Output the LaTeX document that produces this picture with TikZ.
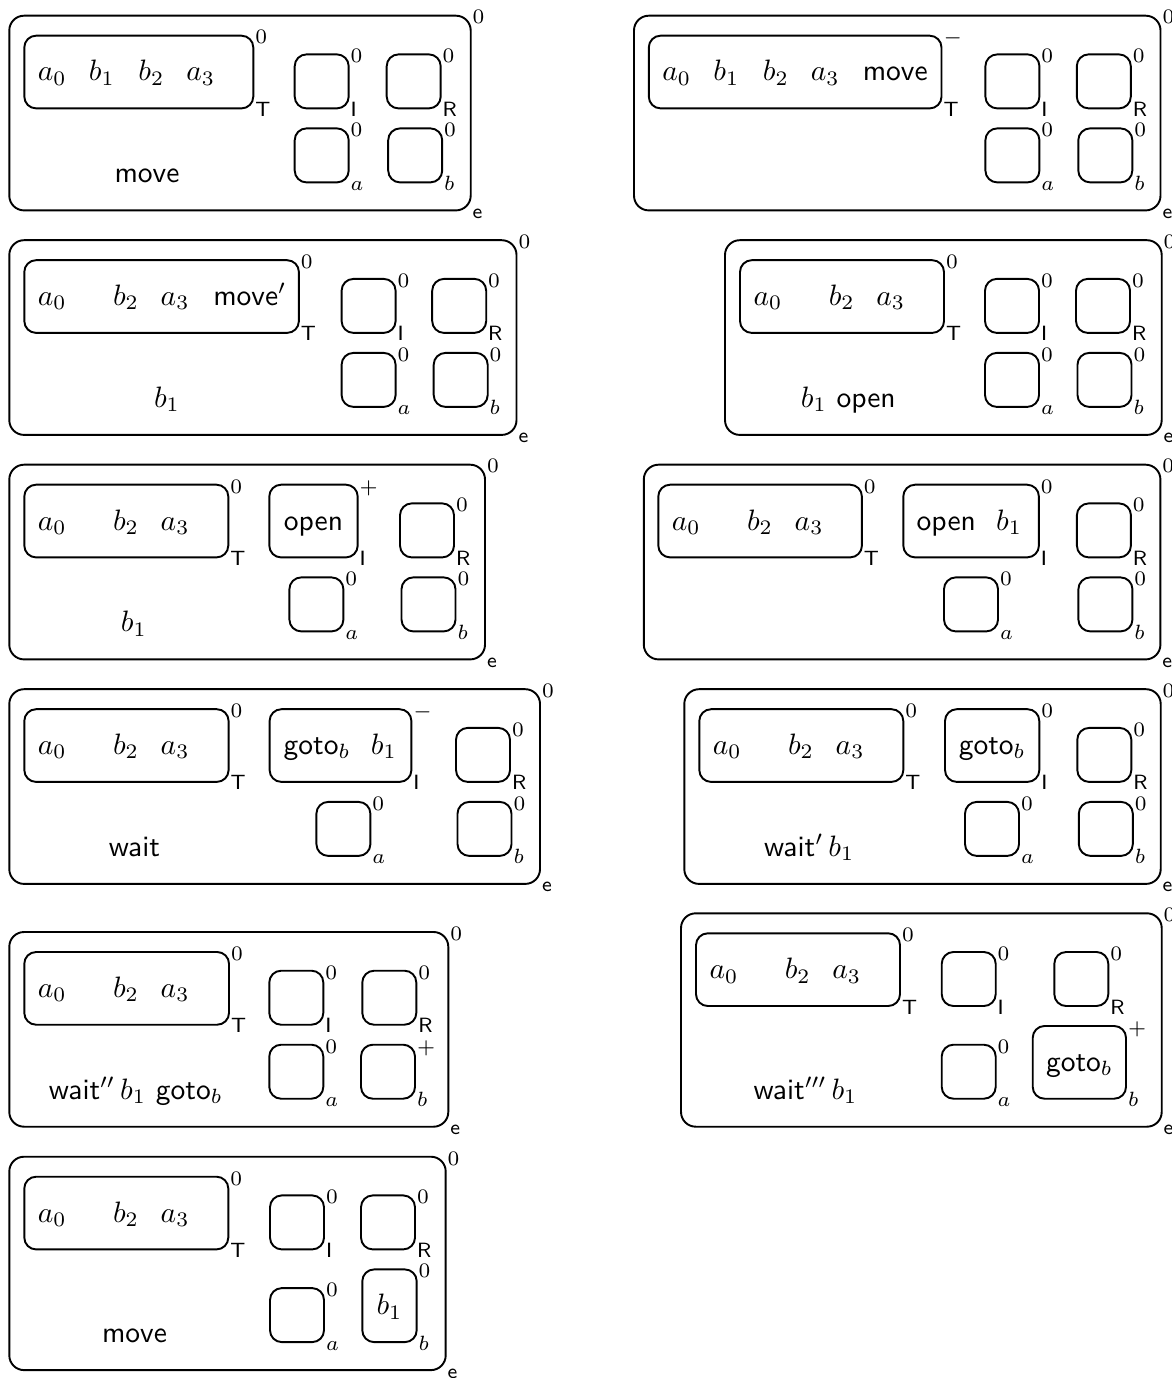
\documentclass[tikz,border=0pt]{standalone}
\usetikzlibrary{calc}
\def\un{0.339pt}
\tikzset{
  every node/.style={inner sep=0pt, outer sep=0pt},
  rbox/.style={draw, line width=0.65pt, rounded corners=4pt, anchor=north west},
  obox/.style={draw, line width=0.65pt, rounded corners=5pt, anchor=north west},
  lab/.style={font=\scriptsize, anchor=base west},
  txt/.style={anchor=base},
  txtw/.style={anchor=base west},
}
% name, x1, y1, x2, y2, sup, sub, style
\newcommand\bxx[8]{%
  \node[#8, minimum width={((#4)-(#2))*\un}, minimum height={((#5)-(#3))*\un}] (#1) at ({#2},{#3}) {};
  \node[lab] (#1-sup) at ($(#1.north east)+(2,8.3)$) {#6};
  \node[lab] (#1-sub) at ($(#1.south east)+(2,8)$) {#7};
}
\begin{document}
\begin{tikzpicture}[x=0.339pt, y=-0.339pt]
\useasboundingbox (0,0) rectangle (1171,1378);

% ---------------- L1
\def\Y{15.7}
\bxx{L1}{9.3}{\Y}{470.7}{\Y+194.7}{$0$}{\textsf{e}}{obox}
\bxx{L1T}{24.3}{\Y+20}{253.3}{\Y+92.7}{$0$}{\textsf{T}}{rbox}
\bxx{L1I}{294.7}{\Y+38.7}{348.7}{\Y+92.7}{$0$}{\textsf{I}}{rbox}
\bxx{L1R}{386.7}{\Y+38.7}{440.7}{\Y+92.7}{$0$}{\textsf{R}}{rbox}
\bxx{L1a}{294.7}{\Y+112.7}{348.7}{\Y+166.7}{$0$}{$a$}{rbox}
\bxx{L1b}{388.2}{\Y+112.7}{442.2}{\Y+166.7}{$0$}{$b$}{rbox}
\node[txt] (L1t1) at (52.3,\Y+65.3) {$a_0$};
\node[txt] (L1t2) at (101.8,\Y+65.3) {$b_1$};
\node[txt] (L1t3) at (151.3,\Y+65.3) {$b_2$};
\node[txt] (L1t4) at (200.8,\Y+65.3) {$a_3$};
\node[txt] (L1m) at (147,\Y+167.2) {\textsf{move}};

% ---------------- R1
\bxx{R1}{634}{\Y}{1160.5}{\Y+194.7}{$0$}{\textsf{e}}{obox}
\bxx{R1T}{648.8}{\Y+20}{941.5}{\Y+92.7}{$-$}{\textsf{T}}{rbox}
\bxx{R1I}{985.4}{\Y+38.7}{1039.4}{\Y+92.7}{$0$}{\textsf{I}}{rbox}
\bxx{R1R}{1076.8}{\Y+38.7}{1130.8}{\Y+92.7}{$0$}{\textsf{R}}{rbox}
\bxx{R1a}{985.4}{\Y+112.7}{1039.4}{\Y+166.7}{$0$}{$a$}{rbox}
\bxx{R1b}{1078.3}{\Y+112.7}{1132.3}{\Y+166.7}{$0$}{$b$}{rbox}
\node[txt] (R1t1) at (676.8,\Y+65.3) {$a_0$};
\node[txt] (R1t2) at (726.3,\Y+65.3) {$b_1$};
\node[txt] (R1t3) at (775.8,\Y+65.3) {$b_2$};
\node[txt] (R1t4) at (825.3,\Y+65.3) {$a_3$};
\node[txtw] (R1t5) at (862.8,\Y+65.3) {\textsf{move}};

% ---------------- L2
\def\Y{240.2}
\bxx{L2}{9.3}{\Y}{516.5}{\Y+194.7}{$0$}{\textsf{e}}{obox}
\bxx{L2T}{24.3}{\Y+20}{298.9}{\Y+92.7}{$0$}{\textsf{T}}{rbox}
\bxx{L2I}{341.6}{\Y+38.7}{395.6}{\Y+92.7}{$0$}{\textsf{I}}{rbox}
\bxx{L2R}{432.2}{\Y+38.7}{486.2}{\Y+92.7}{$0$}{\textsf{R}}{rbox}
\bxx{L2a}{341.6}{\Y+112.7}{395.6}{\Y+166.7}{$0$}{$a$}{rbox}
\bxx{L2b}{433.7}{\Y+112.7}{487.7}{\Y+166.7}{$0$}{$b$}{rbox}
\node[txt] (L2t1) at (52.3,\Y+65.3) {$a_0$};
\node[txt] (L2t3) at (126,\Y+65.3) {$b_2$};
\node[txt] (L2t4) at (175.1,\Y+65.3) {$a_3$};
\node[txtw] (L2t5) at (213.3,\Y+65.3) {\textsf{move}$'$};
\node[txt] (L2m) at (167,\Y+167.2) {$b_1$};

% ---------------- R2
\bxx{R2}{725}{\Y}{1161.7}{\Y+194.7}{$0$}{\textsf{e}}{obox}
\bxx{R2T}{740}{\Y+20}{944}{\Y+92.7}{$0$}{\textsf{T}}{rbox}
\bxx{R2I}{985}{\Y+38.7}{1039}{\Y+92.7}{$0$}{\textsf{I}}{rbox}
\bxx{R2R}{1076}{\Y+38.7}{1130}{\Y+92.7}{$0$}{\textsf{R}}{rbox}
\bxx{R2a}{985}{\Y+112.7}{1039}{\Y+166.7}{$0$}{$a$}{rbox}
\bxx{R2b}{1077.5}{\Y+112.7}{1131.5}{\Y+166.7}{$0$}{$b$}{rbox}
\node[txt] (R2t1) at (768,\Y+65.3) {$a_0$};
\node[txt] (R2t3) at (841.7,\Y+65.3) {$b_2$};
\node[txt] (R2t4) at (890.8,\Y+65.3) {$a_3$};
\node[txt] (R2m) at (848.3,\Y+167.2) {$b_1$ \textsf{open}};

% ---------------- L3
\def\Y{464.7}
\bxx{L3}{9.3}{\Y}{485}{\Y+194.7}{$0$}{\textsf{e}}{obox}
\bxx{L3T}{24.3}{\Y+20}{228.3}{\Y+92.7}{$0$}{\textsf{T}}{rbox}
\bxx{L3I}{269.3}{\Y+20}{357.7}{\Y+92.7}{$+$}{\textsf{I}}{rbox}
\bxx{L3R}{400}{\Y+38.7}{454}{\Y+92.7}{$0$}{\textsf{R}}{rbox}
\bxx{L3a}{289.4}{\Y+112.7}{343.4}{\Y+166.7}{$0$}{$a$}{rbox}
\bxx{L3b}{401.5}{\Y+112.7}{455.5}{\Y+166.7}{$0$}{$b$}{rbox}
\node[txt] (L3t1) at (52.3,\Y+65.3) {$a_0$};
\node[txt] (L3t3) at (126,\Y+65.3) {$b_2$};
\node[txt] (L3t4) at (175.1,\Y+65.3) {$a_3$};
\node[txt] (L3i1) at (313.5,\Y+65.3) {\textsf{open}};
\node[txt] (L3m) at (133.8,\Y+167.2) {$b_1$};

% ---------------- R3
\bxx{R3}{643.8}{\Y}{1160.4}{\Y+194.7}{$0$}{\textsf{e}}{obox}
\bxx{R3T}{658.3}{\Y+20}{861.9}{\Y+92.7}{$0$}{\textsf{T}}{rbox}
\bxx{R3I}{903.3}{\Y+20}{1038.9}{\Y+92.7}{$0$}{\textsf{I}}{rbox}
\bxx{R3R}{1076.9}{\Y+38.7}{1130.9}{\Y+92.7}{$0$}{\textsf{R}}{rbox}
\bxx{R3a}{944}{\Y+112.7}{998}{\Y+166.7}{$0$}{$a$}{rbox}
\bxx{R3b}{1078.4}{\Y+112.7}{1132.4}{\Y+166.7}{$0$}{$b$}{rbox}
\node[txt] (R3t1) at (686.3,\Y+65.3) {$a_0$};
\node[txt] (R3t3) at (760,\Y+65.3) {$b_2$};
\node[txt] (R3t4) at (809.1,\Y+65.3) {$a_3$};
\node[txt] (R3i1) at (946.3,\Y+65.3) {\textsf{open}};
\node[txt] (R3i2) at (1009.1,\Y+65.3) {$b_1$};

% ---------------- L4
\def\Y{689.2}
\bxx{L4}{9.3}{\Y}{540}{\Y+194.7}{$0$}{\textsf{e}}{obox}
\bxx{L4T}{24.3}{\Y+20}{228.6}{\Y+92.7}{$0$}{\textsf{T}}{rbox}
\bxx{L4I}{269.6}{\Y+20}{411.4}{\Y+92.7}{$-$}{\textsf{I}}{rbox}
\bxx{L4R}{456}{\Y+38.7}{510}{\Y+92.7}{$0$}{\textsf{R}}{rbox}
\bxx{L4a}{316.4}{\Y+112.7}{370.4}{\Y+166.7}{$0$}{$a$}{rbox}
\bxx{L4b}{457.5}{\Y+112.7}{511.5}{\Y+166.7}{$0$}{$b$}{rbox}
\node[txt] (L4t1) at (52.3,\Y+65.3) {$a_0$};
\node[txt] (L4t3) at (126,\Y+65.3) {$b_2$};
\node[txt] (L4t4) at (175.1,\Y+65.3) {$a_3$};
\node[txt] (L4i1) at (317,\Y+65.3) {\textsf{goto}$_b$};
\node[txt] (L4i2) at (383.9,\Y+65.3) {$b_1$};
\node[txt] (L4m) at (134.5,\Y+167.2) {\textsf{wait}};

% ---------------- R4
\bxx{R4}{684.3}{\Y}{1160.7}{\Y+194.7}{$0$}{\textsf{e}}{obox}
\bxx{R4T}{699.3}{\Y+20}{903.3}{\Y+92.7}{$0$}{\textsf{T}}{rbox}
\bxx{R4I}{945}{\Y+20}{1039.3}{\Y+92.7}{$0$}{\textsf{I}}{rbox}
\bxx{R4R}{1077.3}{\Y+38.7}{1131.3}{\Y+92.7}{$0$}{\textsf{R}}{rbox}
\bxx{R4a}{965}{\Y+112.7}{1019}{\Y+166.7}{$0$}{$a$}{rbox}
\bxx{R4b}{1078.8}{\Y+112.7}{1132.8}{\Y+166.7}{$0$}{$b$}{rbox}
\node[txt] (R4t1) at (727.3,\Y+65.3) {$a_0$};
\node[txt] (R4t3) at (801,\Y+65.3) {$b_2$};
\node[txt] (R4t4) at (850.1,\Y+65.3) {$a_3$};
\node[txt] (R4i1) at (992.2,\Y+65.3) {\textsf{goto}$_b$};
\node[txt] (R4m) at (809.2,\Y+167.2) {\textsf{wait}$'\,b_1$};

% ---------------- L5
\def\Y{932}
\bxx{L5}{9.3}{\Y}{448.3}{\Y+194.7}{$0$}{\textsf{e}}{obox}
\bxx{L5T}{24.3}{\Y+20}{229}{\Y+92.7}{$0$}{\textsf{T}}{rbox}
\bxx{L5I}{269.3}{\Y+38.7}{323.3}{\Y+92.7}{$0$}{\textsf{I}}{rbox}
\bxx{L5R}{362.3}{\Y+38.7}{416.3}{\Y+92.7}{$0$}{\textsf{R}}{rbox}
\bxx{L5a}{269.3}{\Y+112.7}{323.3}{\Y+166.7}{$0$}{$a$}{rbox}
\bxx{L5b}{361}{\Y+112.7}{415}{\Y+166.7}{$+$}{$b$}{rbox}
\node[txt] (L5t1) at (52.3,\Y+65.3) {$a_0$};
\node[txt] (L5t3) at (126,\Y+65.3) {$b_2$};
\node[txt] (L5t4) at (175.1,\Y+65.3) {$a_3$};
\node[txt] (L5m) at (135.8,\Y+167.2) {\textsf{wait}$''\,b_1$ \textsf{goto}$_b$};

% ---------------- R5 (tall)
\def\Y{913.3}
\bxx{R5}{681}{\Y}{1161.7}{\Y+213.4}{$0$}{\textsf{e}}{obox}
\bxx{R5T}{696}{\Y+20}{900}{\Y+92.7}{$0$}{\textsf{T}}{rbox}
\bxx{R5I}{941.7}{\Y+38.7}{995.7}{\Y+92.7}{$0$}{\textsf{I}}{rbox}
\bxx{R5R}{1054.3}{\Y+38.7}{1108.3}{\Y+92.7}{$0$}{\textsf{R}}{rbox}
\bxx{R5a}{941.7}{\Y+131.4}{995.7}{\Y+185.4}{$0$}{$a$}{rbox}
\bxx{R5b}{1032.7}{\Y+112.7}{1126}{\Y+185.4}{$+$}{$b$}{rbox}
\node[txt] (R5t1) at (724,\Y+65.3) {$a_0$};
\node[txt] (R5t3) at (797.7,\Y+65.3) {$b_2$};
\node[txt] (R5t4) at (846.8,\Y+65.3) {$a_3$};
\node[txt] (R5b1) at (1079.4,\Y+158) {\textsf{goto}$_b$};
\node[txt] (R5m) at (805.5,\Y+185.9) {\textsf{wait}$'''\,b_1$};

% ---------------- L6 (tall)
\def\Y{1156.7}
\bxx{L6}{9.3}{\Y}{445.7}{\Y+213.4}{$0$}{\textsf{e}}{obox}
\bxx{L6T}{24.3}{\Y+20}{228.3}{\Y+92.7}{$0$}{\textsf{T}}{rbox}
\bxx{L6I}{270}{\Y+38.7}{324}{\Y+92.7}{$0$}{\textsf{I}}{rbox}
\bxx{L6R}{361}{\Y+38.7}{415}{\Y+92.7}{$0$}{\textsf{R}}{rbox}
\bxx{L6a}{270}{\Y+131.4}{324}{\Y+185.4}{$0$}{$a$}{rbox}
\bxx{L6b}{362.3}{\Y+112.7}{416.7}{\Y+185.4}{$0$}{$b$}{rbox}
\node[txt] (L6t1) at (52.3,\Y+65.3) {$a_0$};
\node[txt] (L6t3) at (126,\Y+65.3) {$b_2$};
\node[txt] (L6t4) at (175.1,\Y+65.3) {$a_3$};
\node[txt] (L6b1) at (389.5,\Y+158) {$b_1$};
\node[txt] (L6m) at (134.5,\Y+185.9) {\textsf{move}};
\end{tikzpicture}
\end{document}
